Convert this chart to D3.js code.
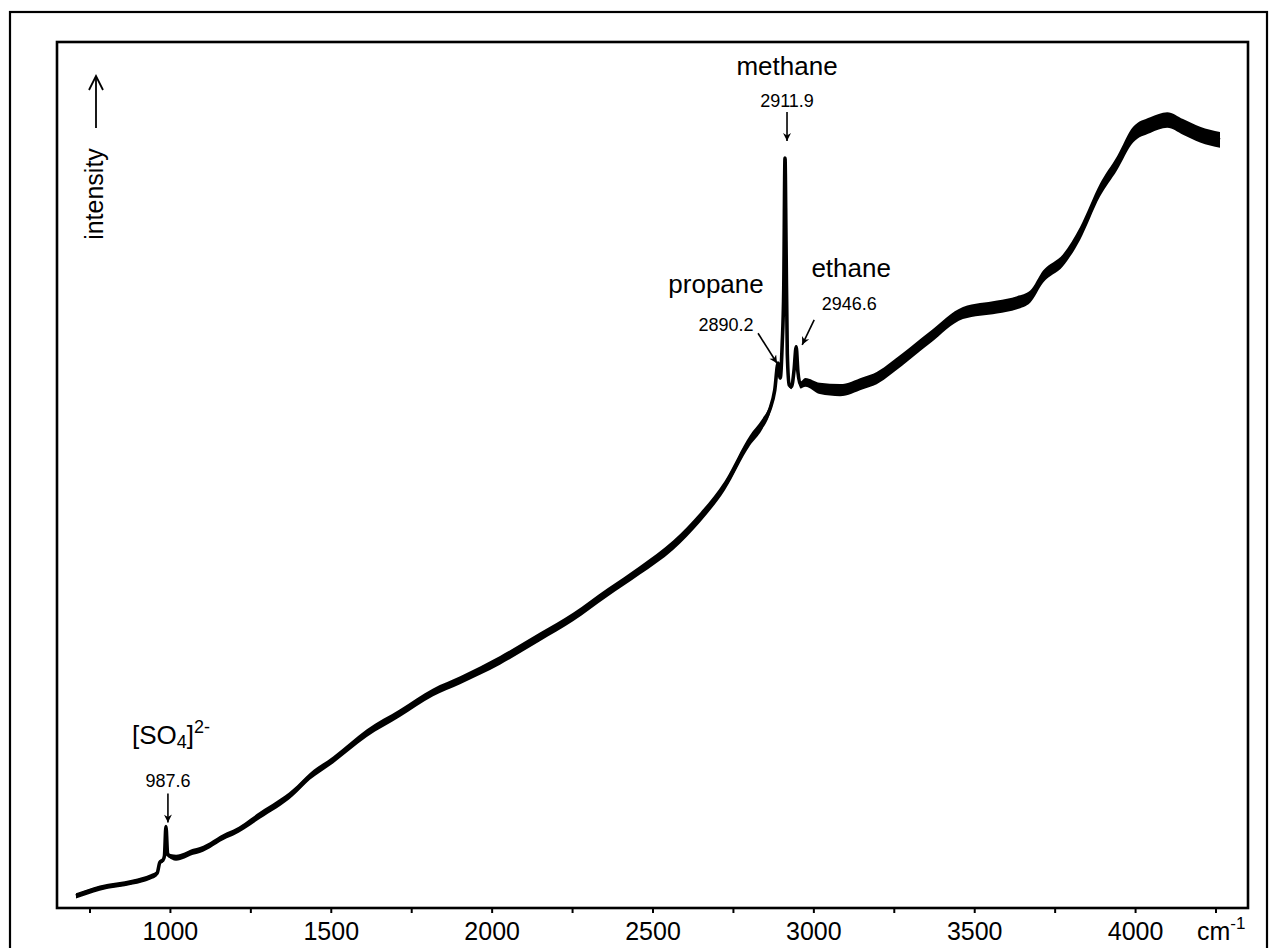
<!DOCTYPE html>
<html>
<head>
<meta charset="utf-8">
<script src="https://cdn.jsdelivr.net/npm/d3@7"></script>
<style>
  html, body { margin: 0; padding: 0; background: #fff; }
  svg { display: block; font-family: "Liberation Sans", Arial, Helvetica, sans-serif; }
</style>
</head>
<body>
<svg id="chart" width="1271" height="948"></svg>
<script>
// Raman shift (cm-1) and measured intensity (arbitrary units) along the spectrum
const wavenumber = [
  708, 782, 885, 940, 960, 969, 978, 983, 987.6, 993, 1006, 1019, 1072, 1093, 1177, 1196,
  1280, 1382, 1435, 1507, 1612, 1715, 1818, 1902, 2026,
  2150, 2253, 2359, 2461, 2564, 2648, 2725, 2803, 2840, 2865, 2880, 2890.2, 2897,
  2903, 2908, 2911.9, 2915, 2919, 2925, 2932, 2940, 2946.6, 2952, 2960, 2975, 3020,
  3083, 3154, 3186, 3275, 3363, 3465, 3571, 3633, 3674, 3714, 3776, 3829, 3891,
  3944, 3994, 4047, 4100, 4149, 4202, 4264
];
const intensity = [
  14, 23, 30, 36, 40, 53, 55, 60, 94, 62, 59, 58, 65, 67, 84, 87,
  107, 133, 152, 171, 202, 225, 249, 263, 286,
  313, 336, 364, 390, 419, 451, 488, 540, 558, 576, 598, 629, 612,
  650, 716, 866, 770, 640, 604, 602, 621, 648, 619, 604, 607, 600,
  598, 606, 610, 633, 659, 687, 694, 699, 706, 729, 748, 779, 829,
  860, 893, 904, 910, 902, 893, 887
];
// Peak-to-peak noise spread of the signal at each sample (same units)
const noiseSpread = [
  6, 6, 6, 6, 6, 5, 5, 4, 3, 4, 6, 7, 7, 7, 7, 7,
  8, 8, 8, 8, 9, 9, 9, 9, 10,
  10, 10, 10, 10, 11, 11, 11, 12, 12, 10, 8, 6, 5,
  4, 3, 2, 3, 4, 5, 6, 6, 5, 6, 8, 10, 13,
  14, 14, 14, 14, 14, 14, 15, 15, 14, 14, 14, 15, 15,
  16, 18, 18, 18, 18, 18, 18
];

// Bottom axis ticks
const tickValues = [750, 1000, 1250, 1500, 1750, 2000, 2250, 2500, 2750, 3000, 3250, 3500, 3750, 4000, 4250];
const labeledTicks = [1000, 1500, 2000, 2500, 3000, 3500, 4000];

// Assigned bands
const peakNames = ["[SO4]2-", "propane", "methane", "ethane"];
const peakShifts = [987.6, 2890.2, 2911.9, 2946.6];

const svg = d3.select("#chart");

const plot = { left: 57, top: 42, right: 1248, bottom: 908 };

const x = d3.scaleLinear().domain([649, 4351]).range([plot.left, plot.right]);
const y = d3.scaleLinear().domain([0, 1000]).range([plot.bottom, plot.top]);

// Outer border
svg.append("rect")
  .attr("x", 10).attr("y", 12)
  .attr("width", 1257).attr("height", 960)
  .attr("fill", "none").attr("stroke", "#000").attr("stroke-width", 2.2);

// Spectrum: noise band plus the trace through it
const points = wavenumber.map((w, i) => ({ w, v: intensity[i], s: noiseSpread[i] }));
svg.append("path")
  .datum(points)
  .attr("fill", "#000")
  .attr("d", d3.area()
    .curve(d3.curveMonotoneX)
    .x(d => x(d.w))
    .y0(d => y(d.v - d.s / 2))
    .y1(d => y(d.v + d.s / 2)));
svg.append("path")
  .datum(points)
  .attr("fill", "none")
  .attr("stroke", "#000")
  .attr("stroke-width", 3.6)
  .attr("stroke-linejoin", "round")
  .attr("d", d3.line().curve(d3.curveMonotoneX).x(d => x(d.w)).y(d => y(d.v)));

// Plot frame
svg.append("rect")
  .attr("x", plot.left).attr("y", plot.top)
  .attr("width", plot.right - plot.left).attr("height", plot.bottom - plot.top)
  .attr("fill", "none").attr("stroke", "#000").attr("stroke-width", 2.6);

// X axis
const xAxis = d3.axisBottom(x)
  .tickValues(tickValues)
  .tickSize(5)
  .tickFormat(d => labeledTicks.includes(d) ? d3.format("d")(d) : "");
const gx = svg.append("g")
  .attr("transform", `translate(0,${plot.bottom})`)
  .call(xAxis);
gx.select(".domain").remove();
gx.selectAll(".tick line").attr("stroke", "#000").attr("stroke-width", 2);
gx.selectAll(".tick text")
  .attr("y", 32).attr("dy", 0)
  .attr("fill", "#000")
  .style("font-size", "25px")
  .style("font-family", "'Liberation Sans', Arial, sans-serif");

// Unit label
const unit = svg.append("text")
  .attr("x", 1197).attr("y", 940)
  .style("font-size", "25px");
unit.append("tspan").text("cm");
unit.append("tspan").attr("dy", -11).style("font-size", "17px").text("-1");

// Y axis label with arrow
svg.append("text")
  .attr("transform", "translate(103,194) rotate(-90)")
  .attr("text-anchor", "middle")
  .style("font-size", "25px")
  .text("intensity");
svg.append("line")
  .attr("x1", 96).attr("y1", 128).attr("x2", 96).attr("y2", 76)
  .attr("stroke", "#000").attr("stroke-width", 1.8);
svg.append("path")
  .attr("d", "M89,90 L96,76 L103,90")
  .attr("fill", "none").attr("stroke", "#000").attr("stroke-width", 1.8);

// Arrowhead marker for peak callouts
svg.append("defs").append("marker")
  .attr("id", "head")
  .attr("viewBox", "0 0 10 10")
  .attr("refX", 10).attr("refY", 5)
  .attr("markerWidth", 10).attr("markerHeight", 8)
  .attr("markerUnits", "userSpaceOnUse")
  .attr("orient", "auto")
  .append("path")
  .attr("d", "M0,0 L10,5 L0,10 L3,5 Z")
  .attr("fill", "#000");

function callout(x1, y1, x2, y2) {
  svg.append("line")
    .attr("x1", x1).attr("y1", y1).attr("x2", x2).attr("y2", y2)
    .attr("stroke", "#000").attr("stroke-width", 1.6)
    .attr("marker-end", "url(#head)");
}

function peakY(shift) {
  return y(intensity[wavenumber.indexOf(shift)]);
}

// Sulfate band
{
  const px = x(peakShifts[0]), py = peakY(peakShifts[0]);
  callout(px + 2, py - 33, px + 2, py - 4);
  svg.append("text").attr("x", px + 2).attr("y", py - 40)
    .attr("text-anchor", "middle").style("font-size", "18px")
    .text(d3.format(".1f")(peakShifts[0]));
  const t = svg.append("text").attr("x", 132).attr("y", py - 83).style("font-size", "26px");
  t.append("tspan").text("[SO");
  t.append("tspan").attr("dy", 4).style("font-size", "18px").text("4");
  t.append("tspan").attr("dy", -4).text("]");
  t.append("tspan").attr("dy", -11).style("font-size", "18px").text("2-");
}

// Propane band
{
  const px = x(peakShifts[1]), py = peakY(peakShifts[1]);
  callout(px - 20, py - 30, px - 1, py);
  svg.append("text").attr("x", px - 52).attr("y", py - 32)
    .attr("text-anchor", "middle").style("font-size", "18px")
    .text(d3.format(".1f")(peakShifts[1]));
  svg.append("text").attr("x", px - 62).attr("y", py - 70)
    .attr("text-anchor", "middle").style("font-size", "26px")
    .text(peakNames[1]);
}

// Methane band
{
  const px = x(peakShifts[2]), py = peakY(peakShifts[2]);
  callout(px + 2, py - 46, px + 2, py - 17);
  svg.append("text").attr("x", px + 2).attr("y", py - 51)
    .attr("text-anchor", "middle").style("font-size", "18px")
    .text(d3.format(".1f")(peakShifts[2]));
  svg.append("text").attr("x", px + 2).attr("y", py - 83)
    .attr("text-anchor", "middle").style("font-size", "26px")
    .text(peakNames[2]);
}

// Ethane band
{
  const px = x(peakShifts[3]), py = peakY(peakShifts[3]);
  callout(px + 18, py - 27, px + 6, py - 2);
  svg.append("text").attr("x", px + 53).attr("y", py - 37)
    .attr("text-anchor", "middle").style("font-size", "18px")
    .text(d3.format(".1f")(peakShifts[3]));
  svg.append("text").attr("x", px + 55).attr("y", py - 70)
    .attr("text-anchor", "middle").style("font-size", "26px")
    .text(peakNames[3]);
}
</script>
</body>
</html>
